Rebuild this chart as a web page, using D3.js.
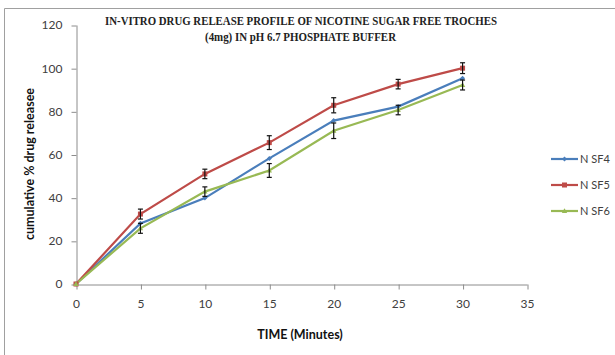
<!DOCTYPE html>
<html><head><meta charset="utf-8">
<script src="https://cdn.jsdelivr.net/npm/d3@7"></script>
<style>body{margin:0;background:#fff}svg{display:block}</style>
</head><body>
<svg id="c" width="615" height="355"></svg>
<script>
const times = [0, 5, 10, 15, 20, 25, 30];
const seriesNames = ["N SF4", "N SF5", "N SF6"];
const nsf4 = [0, 28.1, 39.8, 58.2, 75.7, 82.2, 95.3];
const nsf5 = [0, 32.4, 51.0, 65.5, 82.8, 92.6, 100.0];
const nsf6 = [0, 25.8, 42.8, 52.6, 71.0, 80.6, 92.2];
const err4 = [0, 0, 0, 0, 0, 0, 0];
const err5 = [0, 2.3, 2.2, 3.2, 3.5, 2.2, 2.5];
const err6 = [0, 2.3, 2.2, 3.2, 3.6, 2.2, 2.3];
const colors = ["#4a7ebb", "#be4b48", "#98b954"];
const xTicks = [0, 5, 10, 15, 20, 25, 30, 35];
const yTicks = [0, 20, 40, 60, 80, 100, 120];
const titleLines = ["IN-VITRO DRUG RELEASE PROFILE OF NICOTINE SUGAR FREE TROCHES", "(4mg) IN pH 6.7 PHOSPHATE BUFFER"];

const svg = d3.select("#c");
const x = d3.scaleLinear().domain([0, 35]).range([76, 527]);
const y = d3.scaleLinear().domain([0, 120]).range([284, 25]);

// frame
svg.append("path").attr("d", "M4.5,360V8.5H620").attr("fill", "none").attr("stroke", "#a0a0a0").attr("stroke-width", 1);

const tickFont = "Lato, 'Open Sans', sans-serif";

// axes
const xa = svg.append("g").attr("transform", "translate(0,284.5)")
  .call(d3.axisBottom(x).tickValues(xTicks).tickSize(5).tickSizeOuter(0).tickPadding(10));
const ya = svg.append("g").attr("transform", "translate(76.5,0)")
  .call(d3.axisLeft(y).tickValues(yTicks).tickSize(5).tickSizeOuter(0).tickPadding(9));
[xa, ya].forEach(g => {
  g.select(".domain").attr("stroke", "#8c8c8c");
  g.selectAll(".tick line").attr("stroke", "#8c8c8c");
  g.selectAll(".tick text").attr("fill", "#404040").style("font-family", tickFont).style("font-size", "12px");
});
xa.selectAll(".tick line").attr("transform", "translate(0.5,0)");
ya.selectAll(".tick line").attr("transform", "translate(0,0.5)");

// title
svg.append("text").attr("x", 301).attr("y", 25).attr("text-anchor", "middle")
  .attr("textLength", 392).attr("lengthAdjust", "spacingAndGlyphs")
  .style("font-family", "'Liberation Serif', serif").style("font-weight", "bold").style("font-size", "13.5px")
  .attr("fill", "#222").text(titleLines[0]);
svg.append("text").attr("x", 300.5).attr("y", 41).attr("text-anchor", "middle")
  .attr("textLength", 191).attr("lengthAdjust", "spacingAndGlyphs")
  .style("font-family", "'Liberation Serif', serif").style("font-weight", "bold").style("font-size", "13.5px")
  .attr("fill", "#222").text(titleLines[1]);

// axis titles
svg.append("text").attr("transform", "translate(34,164) rotate(-90)").attr("text-anchor", "middle")
  .style("font-family", tickFont).style("font-weight", "bold").style("font-size", "12.5px").attr("fill", "#111")
  .text("cumulative % drug releasee");
svg.append("text").attr("x", 300).attr("y", 339).attr("text-anchor", "middle")
  .style("font-family", tickFont).style("font-weight", "bold").style("font-size", "12.5px").attr("fill", "#111")
  .text("TIME (Minutes)");

const data = [nsf4, nsf5, nsf6];
const errs = [err4, err5, err6];
const line = d3.line().x((d, i) => x(times[i])).y(d => y(d));

data.forEach((vals, s) => {
  svg.append("path").datum(vals).attr("d", line).attr("fill", "none")
    .attr("stroke", colors[s]).attr("stroke-width", 2.2);
});
// markers
function marker(g, s, cx, cy) {
  if (s === 0) {
    g.append("path").attr("d", `M${cx - 2.5},${cy}L${cx},${cy - 2.5}L${cx + 2.5},${cy}L${cx},${cy + 2.5}Z`).attr("fill", colors[s]);
  } else if (s === 1) {
    g.append("rect").attr("x", cx - 2.5).attr("y", cy - 2.5).attr("width", 5).attr("height", 5).attr("fill", colors[s]);
  } else {
    g.append("path").attr("d", `M${cx - 2.7},${cy + 2}L${cx},${cy - 2.7}L${cx + 2.7},${cy + 2}Z`).attr("fill", colors[s]);
  }
}
const mg = svg.append("g");
data.forEach((vals, s) => vals.forEach((v, i) => marker(mg, s, x(times[i]), y(v))));

// error bars
const eg = svg.append("g").attr("stroke", "#111").attr("stroke-width", 1.2);
data.forEach((vals, s) => vals.forEach((v, i) => {
  const e = errs[s][i];
  if (!e) return;
  const cx = x(times[i]);
  const y1 = y(v + e), y2 = y(v - e);
  eg.append("line").attr("x1", cx).attr("x2", cx).attr("y1", y1).attr("y2", y2);
  eg.append("line").attr("x1", cx - 2.5).attr("x2", cx + 2.5).attr("y1", y1).attr("y2", y1);
  eg.append("line").attr("x1", cx - 2.5).attr("x2", cx + 2.5).attr("y1", y2).attr("y2", y2);
}));

// legend
const lg = svg.append("g");
seriesNames.forEach((n, s) => {
  const ly = 159 + s * 26;
  lg.append("line").attr("x1", 551).attr("x2", 578).attr("y1", ly).attr("y2", ly)
    .attr("stroke", colors[s]).attr("stroke-width", 2.2);
  marker(lg, s, 564.5, ly);
  lg.append("text").attr("x", 580).attr("y", ly + 4).style("font-family", tickFont).style("font-size", "11px")
    .attr("fill", "#404040").text(n);
});
</script>
</body></html>
